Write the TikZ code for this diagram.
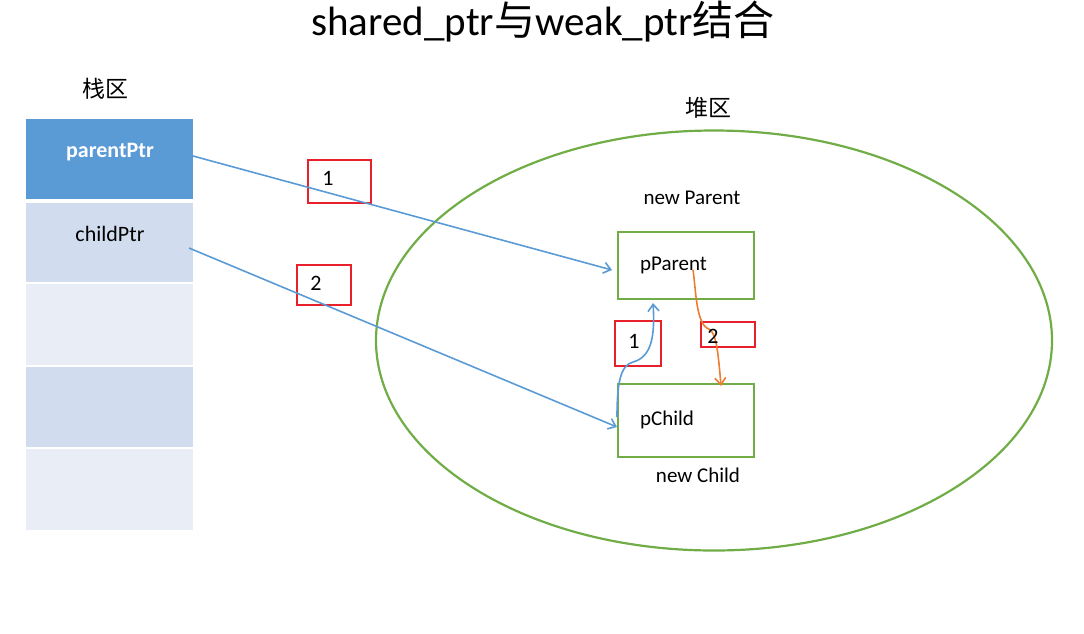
\documentclass[tikz,border=0pt]{standalone}
\usepackage{fontspec}
\setmainfont{Carlito}
\newfontfamily\cjk{Noto Sans CJK SC}
\usetikzlibrary{arrows.meta}
\definecolor{hdrblue}{HTML}{5B9BD5}
\definecolor{rowA}{HTML}{D1DDEE}
\definecolor{rowB}{HTML}{E9EDF6}
\definecolor{grn}{HTML}{70AD47}
\definecolor{redbox}{HTML}{E8202A}
\definecolor{org}{HTML}{ED7D31}
\tikzset{
  cell/.style={rectangle, inner sep=0pt, minimum width=167pt, anchor=north west, draw=none},
  celltext/.style={font=\fontsize{22}{24}\selectfont},
  obj/.style={rectangle, draw=grn, line width=2.2pt, minimum width=136pt, minimum height=67pt, inner xsep=22pt, text width=92pt, align=left, font=\fontsize{21}{24}\selectfont, anchor=north west},
  tag/.style={rectangle, draw=redbox, line width=2.9pt, anchor=north west, inner sep=0pt},
  num/.style={font=\fontsize{22}{24}\selectfont},
  lbl/.style={font=\fontsize{21}{24}\selectfont},
  ptr/.style={draw=hdrblue, line width=1.6pt, -{Straight Barb[length=7pt,width=11pt]}},
  wptr/.style={draw=org, line width=1.6pt, -{Straight Barb[length=7pt,width=11pt]}},
}
\begin{document}
\begin{tikzpicture}[x=1pt,y=-1pt]
\useasboundingbox (0,0) rectangle (1084,633);
% title
\node (title) at (543,22) {\fontsize{41}{44}\selectfont shared\_ptr{\cjk 与}weak\_ptr{\cjk 结合}};
% stack
\node (stacklbl) at (105,89) {\cjk\fontsize{23}{25}\selectfont 栈区};
\node[cell, fill=hdrblue, minimum height=80pt] (parentPtr) at (26,119) {};
\node[cell, fill=rowA, minimum height=79pt] (childPtr) at (26,203) {};
\node[cell, fill=rowB, minimum height=81pt] (row3) at (26,284) {};
\node[cell, fill=rowA, minimum height=80pt] (row4) at (26,367) {};
\node[cell, fill=rowB, minimum height=81pt] (row5) at (26,449) {};
\node[celltext, text=white, font=\fontsize{22}{24}\selectfont\bfseries] (parentTxt) at (110,152) {parentPtr};
\node[celltext] (childTxt) at (110,234) {childPtr};
% heap
\node (heaplbl) at (708,108) {\cjk\fontsize{23}{25}\selectfont 堆区};
\draw[grn, line width=2.2pt] (714,340.5) ellipse [x radius=338, y radius=210];
\node[lbl] (newParent) at (692,198) {new Parent};
\node[lbl] (newChild) at (698,475) {new Child};
\node[obj] (pParent) at (617,230.5) {pParent};
\node[obj, minimum height=73pt] (pChild) at (617,382.5) {pChild};
% red tags
\node[tag, minimum width=63pt, minimum height=43pt] (t1) at (306.5,158.5) {};
\node[num] at (328,178) {1};
\node[tag, minimum width=54pt, minimum height=40pt] (t2) at (295.5,263.5) {};
\node[num] at (316,283) {2};
\node[tag, minimum width=46pt, minimum height=45pt] (t3) at (613.5,319.5) {};
\node[num] at (634,341) {1};
\node[tag, minimum width=54pt, minimum height=25pt] (t4) at (699.5,320.5) {};
% connectors
\coordinate (a1s) at (193,156);
\coordinate (a1e) at (612,270);
\coordinate (a2s) at (189,248);
\coordinate (a2e) at (617,427);
\draw[ptr] (a1s) -- (a1e);
\draw[ptr] (a2s) -- (a2e);
\coordinate (c1s) at (617,417);
\coordinate (c1m) at (633,362);
\coordinate (c1e) at (653,303);
\draw[ptr] (c1s) .. controls (617,385) and (620,365) .. (c1m) .. controls (652,357) and (655,335) .. (c1e);
\coordinate (c2s) at (693,270);
\coordinate (c2m) at (709,329);
\coordinate (c2e) at (721,386);
\draw[wptr] (c2s) .. controls (696,290) and (696,325) .. (c2m) .. controls (716,333) and (718,350) .. (c2e);
\node[num] at (713,336) {2};
\end{tikzpicture}
\end{document}
